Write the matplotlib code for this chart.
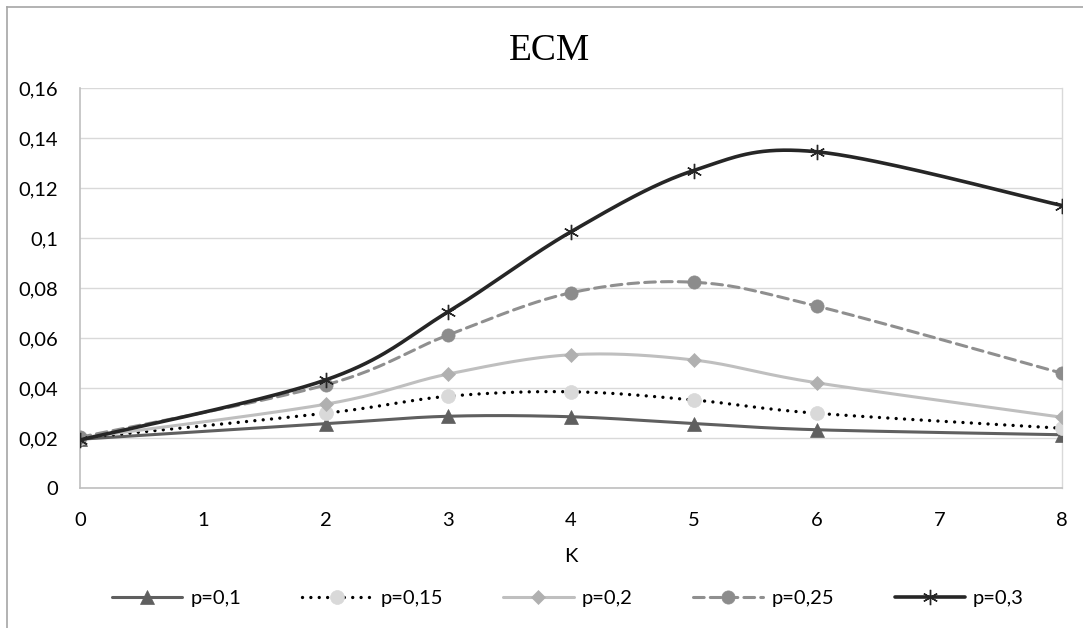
import numpy as np
import matplotlib
matplotlib.use("Agg")
import matplotlib.pyplot as plt
from matplotlib.lines import Line2D
from matplotlib.ticker import FuncFormatter

# ---------------- data ----------------
K = [0, 2, 3, 4, 5, 6, 8]
p01 = [0.0195, 0.0257, 0.0287, 0.0285, 0.0258, 0.0233, 0.0213]
p015 = [0.0200, 0.0299, 0.0367, 0.0385, 0.0352, 0.0299, 0.0239]
p02 = [0.0200, 0.0335, 0.0456, 0.0533, 0.0512, 0.0421, 0.0283]
p025 = [0.0203, 0.0412, 0.0612, 0.0781, 0.0823, 0.0728, 0.0459]
p03 = [0.0192, 0.0432, 0.0705, 0.1025, 0.1270, 0.1345, 0.1130]
labels = ["p=0,1", "p=0,15", "p=0,2", "p=0,25", "p=0,3"]
title = "ECM"
xlabel = "K"
xticks = [0, 1, 2, 3, 4, 5, 6, 7, 8]
yticks = [0, 0.02, 0.04, 0.06, 0.08, 0.1, 0.12, 0.14, 0.16]


def excel_smooth(xs, ys, n=40):
    """Excel-style smoothed line (cardinal Bezier through the points)."""
    P = np.column_stack([xs, ys]).astype(float)
    m = len(P)
    out = [P[0]]
    t = np.linspace(0, 1, n)[1:]
    for i in range(m - 1):
        p0 = P[i]
        p3 = P[i + 1]
        pm = P[i - 1] if i > 0 else P[i]
        pp = P[i + 2] if i + 2 < m else P[i + 1]
        c1 = p0 + (p3 - pm) / 6.0
        c2 = p3 - (pp - p0) / 6.0
        seg = ((1 - t)[:, None] ** 3 * p0 + 3 * (1 - t)[:, None] ** 2 * t[:, None] * c1
               + 3 * (1 - t)[:, None] * t[:, None] ** 2 * c2 + t[:, None] ** 3 * p3)
        out.extend(seg)
    out = np.array(out)
    return out[:, 0], out[:, 1]


FONT = ["Lato", "DejaVu Sans"]
plt.rcParams["font.family"] = FONT
FS = 14.5

W, H = 1083, 628
fig = plt.figure(figsize=(W / 100, H / 100), dpi=100)
ax = fig.add_axes([80 / W, 1 - 488 / H, 982 / W, 400 / H])

styles = [
    dict(color="#5f5f5f", lw=2.2, ls="-", marker="^", mfc="#5f5f5f", mec="#5f5f5f", ms=10),
    dict(color="#000000", lw=2.4, ls=(0, (0.01, 2.5)), marker="o", mfc="#d9d9d9", mec="#d9d9d9", ms=10),
    dict(color="#bfbfbf", lw=2.2, ls="-", marker="D", mfc="#b0b0b0", mec="#b0b0b0", ms=7.5),
    dict(color="#8f8f8f", lw=2.2, ls=(0, (3.5, 2.0)), marker="o", mfc="#8c8c8c", mec="#8c8c8c", ms=9.5),
    dict(color="#262626", lw=2.6, ls="-", marker=(6, 2, 0), mfc="#262626", mec="#262626", ms=11),
]
series = [p01, p015, p02, p025, p03]

handles = []
for z, (ys, st, lab) in enumerate(zip(series, styles, labels)):
    sx, sy = excel_smooth(K, ys)
    ax.plot(sx, sy, color=st["color"], lw=st["lw"], ls=st["ls"],
            solid_capstyle="round", dash_capstyle="round", zorder=3 + z)
    mew = 1.0 if st["marker"] == (6, 2, 0) else 0.5
    ax.plot(K, ys, ls="none", marker=st["marker"], ms=st["ms"], mfc=st["mfc"],
            mec=st["mec"], mew=mew, zorder=3 + z + 0.5)
    handles.append(Line2D([], [], color=st["color"], lw=st["lw"], ls=st["ls"],
                          marker=st["marker"], ms=st["ms"], mfc=st["mfc"], mec=st["mec"],
                          mew=mew, solid_capstyle="round", dash_capstyle="round"))

ax.set_xlim(0, 8)
ax.set_ylim(0, 0.16)
ax.set_xticks(xticks)
ax.set_yticks(yticks)
ax.yaxis.set_major_formatter(FuncFormatter(lambda v, p: ("%g" % round(v, 4)).replace(".", ",")))
ax.xaxis.set_major_formatter(FuncFormatter(lambda v, p: "%d" % v))
ax.grid(axis="y", color="#d9d9d9", lw=1.0, zorder=0)
ax.tick_params(axis="both", length=0, labelsize=FS, colors="#000000")
ax.tick_params(axis="y", pad=16)
ax.tick_params(axis="x", pad=17)
for s in ["left", "bottom"]:
    ax.spines[s].set_color("#bfbfbf")
    ax.spines[s].set_linewidth(1.2)
ax.spines["right"].set_color("#d9d9d9")
ax.spines["right"].set_linewidth(1.0)
ax.spines["top"].set_visible(False)

fig.text(549 / W, 1 - 51 / H, title, ha="center", va="center",
         family=["Liberation Serif", "DejaVu Serif"], fontsize=27)
fig.text(571 / W, 1 - 557 / H, xlabel, ha="center", va="center", fontsize=FS)

fig.legend(handles, labels, loc="center", bbox_to_anchor=(568 / W, 1 - 598 / H),
           ncol=5, frameon=False, fontsize=FS, handlelength=3.5,
           handletextpad=0.4, columnspacing=3.0)

# chart border (left and top)
fig.add_artist(Line2D([7 / W, 7 / W], [0, 1 - 7 / H], color="#a6a6a6", lw=1.2,
                      transform=fig.transFigure))
fig.add_artist(Line2D([7 / W, 1], [1 - 7 / H, 1 - 7 / H], color="#a6a6a6", lw=1.2,
                      transform=fig.transFigure))

fig.savefig("out.png", dpi=100, facecolor="white")
